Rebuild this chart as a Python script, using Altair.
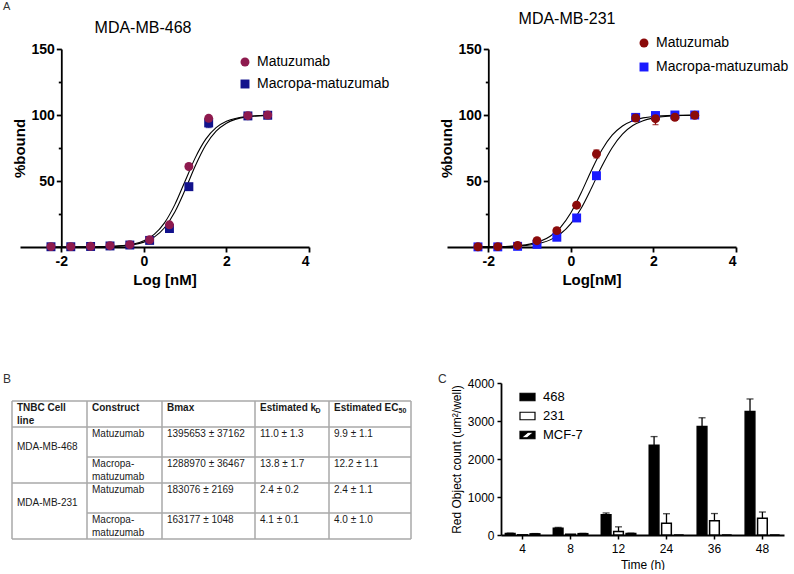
import altair as alt
import pandas as pd

FONT = "Liberation Sans"

# ---------------- data: panel A (binding curves) ----------------
series_names = ["Matuzumab", "Macropa-matuzumab"]
panel_titles = ["MDA-MB-468", "MDA-MB-231"]
panel_letters = ["A", "B", "C"]

log_conc_468 = [-2.25, -1.77, -1.29, -0.82, -0.34, 0.14, 0.62, 1.09, 1.57, 2.52, 3.0]
matuzumab_468 = [0.3, 0.3, 0.5, 1.0, 1.8, 5.5, 16.8, 61.0, 97.5, 99.5, 100.0]
matuzumab_468_err = [0.2, 0.2, 0.3, 0.4, 0.6, 1.0, 1.5, 1.5, 1.5, 0.5, 0.5]
macropa_468 = [0.2, 0.2, 0.4, 0.8, 1.5, 5.0, 14.0, 45.7, 94.0, 99.3, 99.8]
macropa_468_err = [0.2, 0.2, 0.3, 0.4, 0.6, 1.0, 1.5, 1.5, 3.5, 0.5, 0.5]

log_conc_231 = [-2.25, -1.77, -1.29, -0.82, -0.34, 0.14, 0.62, 1.57, 2.05, 2.52, 3.0]
matuzumab_231 = [0.2, 0.3, 1.2, 4.8, 12.4, 31.7, 70.5, 97.7, 97.2, 98.3, 99.8]
matuzumab_231_err = [0.2, 0.2, 0.3, 0.5, 1.0, 1.0, 3.0, 0.5, 4.5, 0.5, 0.5]
macropa_231 = [0.1, 0.1, 0.5, 2.0, 7.4, 22.0, 54.0, 98.2, 99.6, 100.0, 100.0]
macropa_231_err = [0.2, 0.2, 0.3, 0.4, 0.8, 1.0, 1.0, 0.5, 0.5, 0.5, 0.5]

# fitted curves
curve_log_conc = [-2.25, -2.0, -1.5, -1.0, -0.5, -0.25, 0.0, 0.25, 0.5, 0.75,
                  1.0, 1.25, 1.5, 1.75, 2.0, 2.5, 3.0]
fit_matuzumab_468 = [0.0, 0.0, 0.06, 0.25, 1.1, 2.3, 4.8, 9.6, 18.3, 32.1,
                     50.0, 67.9, 81.7, 90.4, 95.2, 98.9, 99.7]
fit_macropa_468 = [0.0, 0.0, 0.04, 0.19, 0.85, 1.8, 3.7, 7.5, 14.6, 26.5,
                   43.3, 61.8, 77.3, 87.8, 93.8, 98.6, 99.7]
fit_matuzumab_231 = [0.07, 0.14, 0.55, 2.2, 8.1, 14.9, 25.9, 41.1, 58.2, 73.5,
                     84.7, 91.7, 95.7, 97.8, 98.9, 99.7, 99.9]
fit_macropa_231 = [0.06, 0.11, 0.40, 1.5, 5.4, 10.0, 17.7, 29.4, 44.7, 61.1,
                   75.2, 85.5, 92.0, 95.7, 97.7, 99.4, 99.8]

# ---------------- data: panel B (table) ----------------
table_header = ["TNBC Cell\nline", "Construct", "Bmax", "Estimated k_D", "Estimated EC_50"]
cell_lines = ["MDA-MB-468", "MDA-MB-231"]
constructs = ["Matuzumab", "Macropa-\nmatuzumab", "Matuzumab", "Macropa-\nmatuzumab"]
bmax = ["1395653 ± 37162", "1288970 ± 36467", "183076 ± 2169", "163177 ± 1048"]
kd = ["11.0 ± 1.3", "13.8 ± 1.7", "2.4 ± 0.2", "4.1 ± 0.1"]
ec50 = ["9.9 ± 1.1", "12.2 ± 1.1", "2.4 ± 1.1", "4.0 ± 1.0"]

# ---------------- data: panel C (bars) ----------------
times = ["4", "8", "12", "24", "36", "48"]
cell_lines_c = ["468", "231", "MCF-7"]
count_468 = [40, 175, 535, 2360, 2855, 3250]
err_468 = [10, 25, 45, 230, 230, 330]
count_231 = [5, 20, 90, 310, 375, 440]
err_231 = [0, 0, 125, 250, 190, 165]
count_mcf7 = [30, 35, 40, 0, 0, 0]
err_mcf7 = [8, 8, 8, 0, 0, 0]


# ======================================================================
def dose_panel(title, xs, mat, mat_err, mac, mac_err, fit_mat, fit_mac,
               colors, x_title, title_xy, legend_xy, legend_rowpad, letter, letter_opacity):
    pts = pd.concat([
        pd.DataFrame({"logc": xs, "pct": mac, "err": mac_err, "series": series_names[1]}),
        pd.DataFrame({"logc": xs, "pct": mat, "err": mat_err, "series": series_names[0]}),
    ], ignore_index=True)
    pts["lo"] = pts["pct"] - pts["err"]
    pts["hi"] = pts["pct"] + pts["err"]
    fit = pd.concat([
        pd.DataFrame({"logc": curve_log_conc, "pct": fit_mat, "series": series_names[0]}),
        pd.DataFrame({"logc": curve_log_conc, "pct": fit_mac, "series": series_names[1]}),
    ], ignore_index=True)

    xscale = alt.Scale(domain=[-3, 4], nice=False, zero=False)
    yscale = alt.Scale(domain=[0, 150], nice=False, zero=False)
    xaxis = alt.Axis(values=[-2, 0, 2, 4], title=x_title, labelExpr="'' + datum.value",
                     tickSize=5, tickWidth=1.8, domainWidth=1.8, labelPadding=2,
                     titlePadding=4, labelFontSize=14, labelFontWeight="bold",
                     titleFontSize=15, titleFontWeight="bold", grid=False)
    yaxis = alt.Axis(values=[25, 50, 75, 100, 125, 150], title="%bound",
                     labelExpr="datum.value % 50 == 0 ? datum.label : ''",
                     tickSize={"condition": {"test": "datum.value % 50 != 0", "value": 3}, "value": 5},
                     offset=-41.3, tickWidth=1.8, domainWidth=1.8, labelPadding=2,
                     titlePadding=3, labelFontSize=14, labelFontWeight="bold",
                     titleFontSize=15, titleFontWeight="bold", grid=False)

    def X(f):
        return alt.X(f"{f}:Q", scale=xscale, axis=xaxis)

    def Y(f):
        return alt.Y(f"{f}:Q", scale=yscale, axis=yaxis)

    layers = []
    layers.append(alt.Chart(fit).mark_line(color="black", strokeWidth=1.1, interpolate="monotone")
                  .encode(x=X("logc"), y=Y("pct"), detail="series:N"))
    for s, c in zip(series_names[::-1], colors[::-1]):
        base = alt.Chart(pts).transform_filter(f"datum.series == '{s}' && datum.err > 0")
        layers.append(base.mark_rule(color=c, strokeWidth=1.3)
                      .encode(x=X("logc"), y=Y("lo"), y2="hi:Q"))
        layers.append(base.mark_tick(color=c, orient="horizontal", size=6, thickness=1.3)
                      .encode(x=X("logc"), y=Y("hi")))
        layers.append(base.mark_tick(color=c, orient="horizontal", size=6, thickness=1.3)
                      .encode(x=X("logc"), y=Y("lo")))
    leg = alt.Legend(title=None, orient="none", legendX=legend_xy[0], legendY=legend_xy[1],
                     labelFont=FONT, labelFontSize=14, labelColor="black", symbolSize=80,
                     rowPadding=legend_rowpad, labelOffset=5, padding=0, symbolStrokeWidth=0)
    layers.append(alt.Chart(pts).mark_point(filled=True, size=80, opacity=1)
                  .encode(x=X("logc"), y=Y("pct"),
                          color=alt.Color("series:N", scale=alt.Scale(domain=series_names, range=colors), legend=leg),
                          shape=alt.Shape("series:N", scale=alt.Scale(domain=series_names, range=["circle", "square"]), legend=leg)))
    layers.append(alt.Chart(pd.DataFrame({"t": [title]})).mark_text(
        font=FONT, fontSize=16, align="center", baseline="middle", color="black")
        .encode(text="t:N", x=alt.value(title_xy[0]), y=alt.value(title_xy[1])))
    layers.append(alt.Chart(pd.DataFrame({"t": [letter]})).mark_text(
        font=FONT, fontSize=11, align="left", baseline="top", color="#333", opacity=letter_opacity)
        .encode(text="t:N", x=alt.value(-17 if letter_opacity else 0), y=alt.value(-48)))
    return alt.layer(*layers).properties(width=289, height=198)


# ======================================================================
col_edges = [0, 75, 150, 243, 317, 399]
row_edges = [18, 44, 74, 100, 130, 156]
TABLE_SHIFT = 8   # table starts this many px left of the panel origin


def table_panel():
    W = col_edges[-1]
    H = row_edges[-1]
    xs = alt.Scale(domain=[TABLE_SHIFT, W], nice=False, zero=False)
    ys = alt.Scale(domain=[0, H], nice=False, zero=False, reverse=True)
    rules = []
    for i, y in enumerate(row_edges):
        x0 = col_edges[1] if i in (2, 4) else col_edges[0]
        rules.append(dict(x=x0, x2=W, y=y, y2=y))
    for c in col_edges:
        rules.append(dict(x=c, x2=c, y=row_edges[0], y2=row_edges[-1]))
    rules = pd.DataFrame(rules)

    bold, normal, subs = [], [], []
    first, second, pad = 7, 20.4, 5
    # header
    for j, h in enumerate(table_header):
        x = col_edges[j] + pad
        if "_" in h:
            main, sub = h.split("_")
            bold.append(dict(x=x, y=row_edges[0] + first, text=main))
            width = {"Estimated k": 55.5, "Estimated EC": 64.5}[main]
            subs.append(dict(x=x + width, y=row_edges[0] + first + 3, text=sub))
        else:
            for k, part in enumerate(h.split("\n")):
                bold.append(dict(x=x, y=row_edges[0] + (first if k == 0 else second), text=part))
    # cell lines (merged cells)
    for i, cl in enumerate(cell_lines):
        normal.append(dict(x=col_edges[0] + pad, y=row_edges[1 + 2 * i] + second, text=cl))
    # body
    for r in range(4):
        top = row_edges[1 + r]
        for k, part in enumerate(constructs[r].split("\n")):
            normal.append(dict(x=col_edges[1] + pad, y=top + (first if k == 0 else second), text=part))
        for j, vals in zip([2, 3, 4], [bmax, kd, ec50]):
            normal.append(dict(x=col_edges[j] + pad, y=top + first, text=vals[r]))

    X = alt.X("x:Q", scale=xs, axis=None)
    Y = alt.Y("y:Q", scale=ys, axis=None)
    grid = alt.Chart(rules).mark_rule(color="#a8a8a8", strokeWidth=1.5).encode(
        x=X, x2="x2:Q", y=Y, y2="y2:Q")
    tb = alt.Chart(pd.DataFrame(bold)).mark_text(font=FONT, fontSize=10, fontWeight="bold",
                                                 align="left", baseline="middle", color="#1a1a1a").encode(
        x=X, y=Y, text="text:N")
    tn = alt.Chart(pd.DataFrame(normal)).mark_text(font=FONT, fontSize=10, align="left",
                                                   baseline="middle", color="#1a1a1a").encode(
        x=X, y=Y, text="text:N")
    ts = alt.Chart(pd.DataFrame(subs)).mark_text(font=FONT, fontSize=7, fontWeight="bold", align="left",
                                                 baseline="middle", color="#1a1a1a").encode(
        x=X, y=Y, text="text:N")
    letter = alt.Chart(pd.DataFrame({"t": [panel_letters[1]]})).mark_text(
        font=FONT, fontSize=12, align="left", baseline="middle", color="#333").encode(
        text="t:N", x=alt.value(-17), y=alt.value(-4))
    return alt.layer(grid, tb, tn, ts, letter).properties(width=W - TABLE_SHIFT, height=H)


# ======================================================================
def bar_panel():
    rows = []
    for line, vals, errs in [("468", count_468, err_468), ("231", count_231, err_231),
                             ("MCF-7", count_mcf7, err_mcf7)]:
        for t, v, e in zip(times, vals, errs):
            rows.append(dict(time=t, line=line, count=v, err=e, hi=v + e))
    df = pd.DataFrame(rows)

    xsc = alt.Scale(domain=times, paddingInner=0.1, paddingOuter=0)
    xax = alt.Axis(title="Time (h)", labelAngle=0, tickSize=4, tickWidth=1.5, domainWidth=1.8,
                   labelPadding=4, titlePadding=5, labelFontSize=12, titleFontSize=12,
                   titleFontWeight="normal", grid=False)
    ysc = alt.Scale(domain=[0, 4000], nice=False)
    yax = alt.Axis(values=[0, 1000, 2000, 3000, 4000], format="d", title="Red Object count (um²/well)",
                   tickSize=4, tickWidth=1.5, domainWidth=1.8, labelPadding=3, titlePadding=4,
                   labelFontSize=12, titleFontSize=12, titleFontWeight="normal", grid=False)
    X = alt.X("time:N", sort=times, scale=xsc, axis=xax)
    XO = alt.XOffset("line:N", sort=cell_lines_c,
                     scale=alt.Scale(domain=cell_lines_c, paddingInner=0.22, paddingOuter=0.35))
    fill_scale = alt.Scale(domain=cell_lines_c, range=["#000000", "#ffffff", "#000000"])

    bars = alt.Chart(df).mark_bar(stroke="black", strokeWidth=1.5).encode(
        x=X, xOffset=XO,
        y=alt.Y("count:Q", scale=ysc, axis=yax),
        fill=alt.Fill("line:N", sort=cell_lines_c, scale=fill_scale, legend=None))
    eb = alt.Chart(df).transform_filter("datum.err > 0")
    rules = eb.mark_rule(color="black", strokeWidth=1.3).encode(
        x=X, xOffset=XO, y=alt.Y("count:Q", scale=ysc, axis=yax), y2="hi:Q")
    caps = eb.mark_tick(color="black", orient="horizontal", size=7, thickness=1.3).encode(
        x=X, xOffset=XO, y=alt.Y("hi:Q", scale=ysc, axis=yax))
    letter = alt.Chart(pd.DataFrame({"t": [panel_letters[2]]})).mark_text(
        font=FONT, fontSize=12, align="left", baseline="middle", color="#333").encode(
        text="t:N", x=alt.value(-63), y=alt.value(-4))
    main = alt.layer(bars, rules, caps, letter)

    # key drawn with the library's own point scale; hatched symbol = rect with a diagonal hole
    rect = "M-1,-0.5H1V0.5H-1Z"
    hatched = "M-1,-0.5H1V0.5H-1Z M-0.85,0.38 L-0.05,0.38 L0.85,-0.38 L0.05,-0.38 Z"
    key_df = pd.DataFrame({"line": cell_lines_c})
    key_y = alt.Y("line:N", sort=cell_lines_c,
                  scale=alt.Scale(type="point", domain=cell_lines_c, range=[14, 52], padding=0),
                  axis=None)
    key_sym = alt.Chart(key_df).mark_point(filled=True, size=225, stroke="black", strokeWidth=1.2,
                                           opacity=1).encode(
        x=alt.value(26.5), y=key_y,
        fill=alt.Fill("line:N", sort=cell_lines_c, scale=fill_scale, legend=None),
        shape=alt.Shape("line:N", sort=cell_lines_c,
                        scale=alt.Scale(domain=cell_lines_c, range=[rect, rect, hatched]), legend=None))
    key_txt = alt.Chart(key_df).mark_text(font=FONT, fontSize=13, align="left", baseline="middle",
                                          color="black").encode(
        x=alt.value(42), y=key_y, text="line:N")
    key = alt.layer(key_sym, key_txt)
    return alt.layer(main, key).resolve_scale(y="independent").properties(width=283, height=152)


a1 = dose_panel(panel_titles[0], log_conc_468, matuzumab_468, matuzumab_468_err,
                macropa_468, macropa_468_err, fit_matuzumab_468, fit_macropa_468,
                ["#8E1A4E", "#12128C"], "Log [nM]", (123, -21), (218, 6), 8,
                panel_letters[0], 1)
a2 = dose_panel(panel_titles[1], log_conc_231, matuzumab_231, matuzumab_231_err,
                macropa_231, macropa_231_err, fit_matuzumab_231, fit_macropa_231,
                ["#8B0A0A", "#1A1AFF"], "Log[nM]", (120, -30.3), (190, -13), 10,
                panel_letters[0], 0)

indep = dict(color="independent", shape="independent", fill="independent")
row1 = alt.hconcat(a1, a2, spacing=49).resolve_scale(**indep).resolve_legend(**indep)
row2 = alt.hconcat(table_panel(), bar_panel(), spacing=26).resolve_scale(**indep).resolve_legend(**indep)

chart = alt.vconcat(row1, row2, spacing=86,
                    padding={"left": 3, "top": 1, "right": 0, "bottom": 0}).resolve_scale(
    **indep).resolve_legend(**indep).configure(
    font=FONT).configure_view(stroke=None).configure_axis(
    labelColor="black", titleColor="black", domainColor="black", tickColor="black",
    labelFont=FONT, titleFont=FONT)

chart.save("out.html", embed_options={"renderer": "svg", "actions": False})
